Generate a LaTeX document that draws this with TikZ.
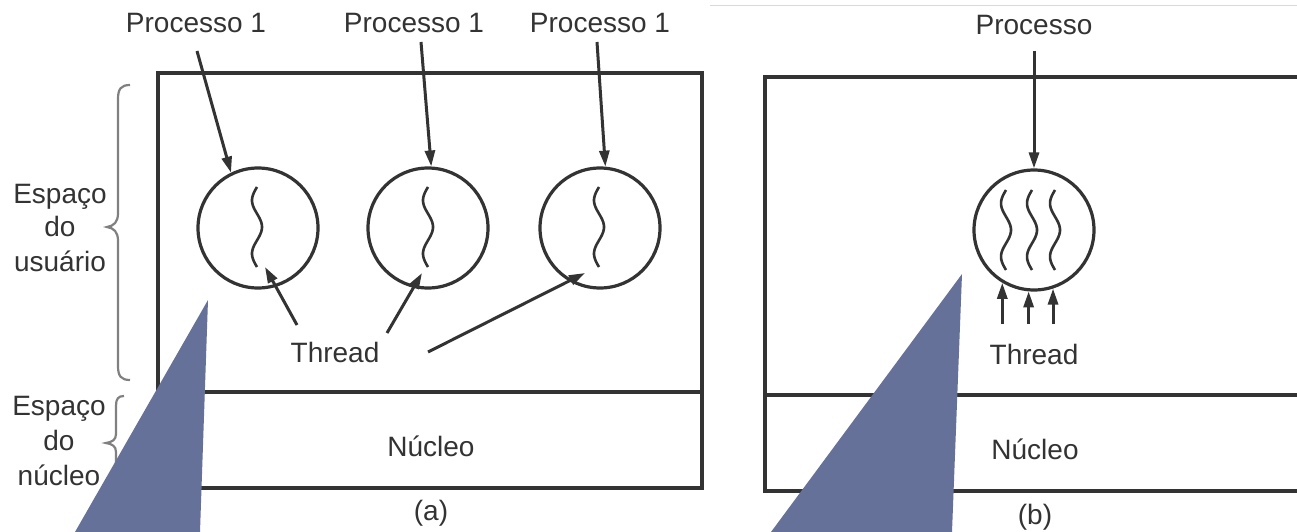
\documentclass[tikz,border=0pt]{standalone}
\usepackage{fontspec}
\setmainfont{Liberation Sans}
\usetikzlibrary{arrows.meta,calc}
\definecolor{ink}{HTML}{333333}
\definecolor{pointer}{RGB}{102,113,153}
\begin{document}
\begin{tikzpicture}[x=1pt,y=-1pt,
  lbl/.style={font=\fontsize{28}{34}\selectfont, text=ink, inner sep=0pt, anchor=base},
  frame/.style={draw=ink, line width=3.6pt},
  proc/.style={circle, draw=ink, line width=3.2pt, minimum size=120pt, inner sep=0pt},
  arr/.style={draw=ink, line width=3pt, -{Triangle[length=16pt,width=10pt]}},
  thr/.style={draw=ink, line width=2.6pt},
  brc/.style={draw=gray, line width=2.2pt},
  wig/.pic={\draw[thr] plot[domain=0:1,samples=40,smooth] ({-5*sin(540*\x)},{80*\x-40});}
]
\useasboundingbox (0,0) rectangle (1297,532);
\fill[white] (0,0) rectangle (1297,532);
\draw[gray!30, line width=1.5pt] (710,5.5) -- (1297,5.5);

% ---------- (a) one thread per process ----------
\draw[frame] (158,73) rectangle (702,488);
\draw[frame] (158,392) -- (702,392);

\node[lbl] (us1) at (60,203) {Espaço};
\node[lbl] (us2) at (60,236) {do};
\node[lbl] (us3) at (60,271) {usuário};
\node[lbl] (ns1) at (59,415) {Espaço};
\node[lbl] (ns2) at (59,450) {do};
\node[lbl] (ns3) at (59,485) {núcleo};

\draw[brc] (130,85) .. controls (121,85) and (118,89) .. (118,99) -- (118,213)
  .. controls (118,222) and (114,226) .. (107,227)
  .. controls (114,228) and (118,232) .. (118,241) -- (118,366)
  .. controls (118,376) and (121,380) .. (130,380);
\draw[brc] (124,396) .. controls (118,396) and (116,399) .. (116,406) -- (116,434)
  .. controls (116,440) and (112,442) .. (106,443)
  .. controls (112,444) and (116,446) .. (116,452) -- (116,478)
  .. controls (116,485) and (118,488) .. (124,488);

\node[lbl] (pa1) at (196,33) {Processo 1};
\node[lbl] (pa2) at (414,33) {Processo 1};
\node[lbl] (pa3) at (600,33) {Processo 1};

\node[proc] (ca1) at (258,228) {};
\node[proc] (ca2) at (428,228) {};
\node[proc] (ca3) at (600,228) {};
\pic at (257,227) {wig};
\pic at (428,227) {wig};
\pic at (599,227) {wig};

\draw[arr] ([shift={(1,18)}]pa1.base) -- (ca1.116);
\draw[arr] ([shift={(7,9)}]pa2.base) -- (ca2.87);
\draw[arr] ([shift={(-3,9)}]pa3.base) -- (ca3.85);

\node[lbl] (tha) at (335,362) {Thread};
\draw[arr] ([shift={(-38,-37)}]tha.base) -- ($(ca1)+(7,39)$);
\draw[arr] ([shift={(52,-29)}]tha.base) -- ($(ca2)+(-6,45)$);
\draw[arr] ([shift={(93,-10)}]tha.base) -- ($(ca3)+(-15,45)$);

\node[lbl] (nua) at (431,456) {Núcleo};
\node[lbl] (capa) at (431,520) {(a)};

% ---------- (b) several threads in one process ----------
\draw[frame] (1300,77) -- (765,77) -- (765,491) -- (1300,491);
\draw[frame] (765,395) -- (1300,395);

\node[lbl] (pb) at (1034,35) {Processo};
\node[proc] (cb) at (1034,230) {};
\pic at (1006,230) {wig};
\pic at (1032,230) {wig};
\pic at (1055,230) {wig};
\draw[arr] ([shift={(0,16)}]pb.base) -- (cb.north);

\node[lbl] (thb) at (1034,364) {Thread};
\coordinate (tb) at (1030,324);
\draw[arr] (cb.-121 |- tb) -- (cb.-121);
\draw[arr] (cb.-95 |- tb) -- (cb.-95);
\draw[arr] (cb.-72 |- tb) -- (cb.-72);

\node[lbl] (nub) at (1035,459) {Núcleo};
\node[lbl] (capb) at (1035,524) {(b)};

% ---------- pointer shapes laid over the figure ----------
\fill[pointer] (208,300) -- (200,532) -- (75,532) -- cycle;
\fill[pointer] (962,274) -- (952,532) -- (771,532) -- cycle;
\end{tikzpicture}
\end{document}
